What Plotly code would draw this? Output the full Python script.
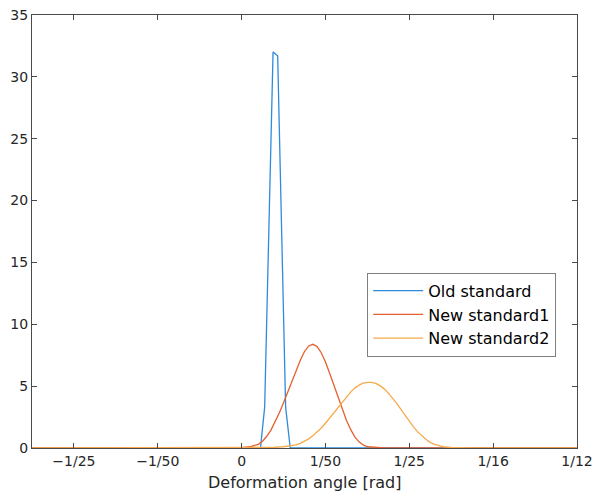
import plotly.graph_objects as go

# Deformation angle samples [rad] and frequency values for each standard
old_x = [-0.05, 0.0045, 0.0055, 0.0075, 0.0086, 0.0105, 0.0116, 0.08]
old_y = [0.0, 0.0, 3.3, 32.0, 31.7, 3.3, 0.0, 0.0]

new1_x = [-0.05, 0.0, 0.002, 0.004, 0.005, 0.006, 0.007, 0.008, 0.009, 0.010,
          0.011, 0.012, 0.013, 0.014, 0.015, 0.016, 0.017, 0.018, 0.019, 0.020,
          0.021, 0.022, 0.023, 0.024, 0.025, 0.026, 0.027, 0.028, 0.029, 0.030,
          0.032, 0.034, 0.08]
new1_y = [0.0, 0.03, 0.1, 0.3, 0.55, 0.95, 1.45, 2.1, 2.85, 3.65,
          4.5, 5.4, 6.3, 7.1, 7.8, 8.25, 8.38, 8.2, 7.7, 6.95,
          6.05, 5.1, 4.1, 3.15, 2.25, 1.5, 0.9, 0.5, 0.25, 0.1,
          0.02, 0.0, 0.0]

new2_x = [-0.05, 0.0, 0.004, 0.008, 0.010, 0.012, 0.013, 0.014, 0.015, 0.016,
          0.017, 0.018, 0.019, 0.020, 0.021, 0.022, 0.023, 0.024, 0.025, 0.026,
          0.027, 0.028, 0.029, 0.030, 0.031, 0.032, 0.033, 0.034, 0.035, 0.036,
          0.037, 0.038, 0.039, 0.040, 0.041, 0.042, 0.043, 0.044, 0.045, 0.046,
          0.048, 0.050, 0.054, 0.058, 0.08]
new2_y = [0.0, 0.0, 0.02, 0.06, 0.1, 0.17, 0.26, 0.38, 0.54, 0.74,
          0.99, 1.28, 1.62, 2.0, 2.42, 2.86, 3.3, 3.74, 4.15, 4.52,
          4.84, 5.08, 5.24, 5.31, 5.31, 5.22, 5.04, 4.78, 4.44, 4.04,
          3.6, 3.12, 2.63, 2.15, 1.7, 1.3, 0.96, 0.68, 0.46, 0.3,
          0.11, 0.04, 0.01, 0.0, 0.0]

series_names = ["Old standard", "New standard1", "New standard2"]
series_colors = ["#2E8BDC", "#E4602F", "#F7A94C"]

x_tick_vals = [-0.04, -0.02, 0.0, 0.02, 0.04, 0.06, 0.08]
x_tick_text = ["\u22121/25", "\u22121/50", "0", "1/50", "1/25", "1/16", "1/12"]
y_tick_vals = [0, 5, 10, 15, 20, 25, 30, 35]
x_title = "Deformation angle [rad]"

fig = go.Figure()
for xs, ys, name, color in zip([old_x, new1_x, new2_x], [old_y, new1_y, new2_y],
                               series_names, series_colors):
    fig.add_trace(go.Scatter(x=xs, y=ys, mode="lines", name=name,
                             line=dict(color=color, width=1.3)))

axis_color = "#4a4a4a"
common_axis = dict(showline=True, linecolor=axis_color, linewidth=1, mirror="ticks",
                   ticks="inside", ticklen=5, tickcolor=axis_color, showgrid=False,
                   zeroline=False, automargin=False,
                   tickfont=dict(family="DejaVu Sans", size=14, color="#262626"))

fig.update_layout(
    width=595, height=493,
    margin=dict(l=32, r=18, t=15, b=45),
    paper_bgcolor="white", plot_bgcolor="white",
    xaxis=dict(range=[-0.05, 0.08], tickvals=x_tick_vals, ticktext=x_tick_text,
               **common_axis),
    yaxis=dict(range=[0, 35], tickvals=y_tick_vals, **common_axis),
    legend=dict(x=0.615, y=0.405, xanchor="left", yanchor="top",
                bgcolor="white", bordercolor="#7f7f7f", borderwidth=1,
                font=dict(family="DejaVu Sans", size=16, color="#000000"),
                tracegroupgap=0, itemwidth=50),
    showlegend=True,
)

# x-axis title placed below the tick labels
fig.add_annotation(text=x_title, xref="paper", yref="paper", x=0.5, y=-0.0795,
                   xanchor="center", yanchor="middle", showarrow=False,
                   font=dict(family="DejaVu Sans", size=16, color="#262626"))

fig.write_html("out.html")
